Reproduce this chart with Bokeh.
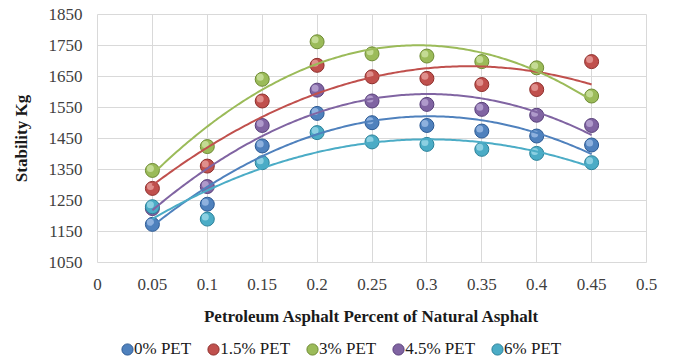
import numpy as np
from bokeh.plotting import figure
from bokeh.layouts import column
from bokeh.models import FixedTicker, CustomJSTickFormatter, Legend, LegendItem, ColumnDataSource
from bokeh.embed import file_html
from bokeh.resources import INLINE

x_vals = [0.05, 0.1, 0.15, 0.2, 0.25, 0.3, 0.35, 0.4, 0.45]
series_names = ["0% PET", "1.5% PET", "3% PET", "4.5% PET", "6% PET"]
pet0 = [1173, 1238, 1426, 1531, 1501, 1492, 1474, 1458, 1429]
pet15 = [1289, 1361, 1571, 1686, 1649, 1644, 1624, 1608, 1698]
pet3 = [1347, 1424, 1641, 1762, 1723, 1716, 1698, 1678, 1587]
pet45 = [1224, 1295, 1492, 1606, 1571, 1560, 1544, 1525, 1492]
pet6 = [1230, 1190, 1372, 1469, 1439, 1431, 1415, 1402, 1372]
series_values = [pet0, pet15, pet3, pet45, pet6]
colors = ["#4F81BD", "#C0504D", "#9BBB59", "#8064A2", "#4BACC6"]
dark = ["#2C5A94", "#8E2E2B", "#6E8B33", "#583F7A", "#2A8199"]
light = ["#A9C6EC", "#EDA9A7", "#D5E8AE", "#C3B1DD", "#A8E0EE"]
x_ticks = [0, 0.05, 0.1, 0.15, 0.2, 0.25, 0.3, 0.35, 0.4, 0.45, 0.5]
y_ticks = [1050, 1150, 1250, 1350, 1450, 1550, 1650, 1750, 1850]

FONT = "Liberation Serif"
FS = "17px"

p = figure(frame_width=549, frame_height=248, x_range=(0, 0.5), y_range=(1050, 1850),
           output_backend="svg", toolbar_location=None,
           min_border_left=97, min_border_right=18, min_border_top=14, min_border_bottom=75)
p.background_fill_color = "white"
p.border_fill_color = "white"
p.outline_line_color = "#D9D9D9"

p.xaxis.ticker = FixedTicker(ticks=x_ticks)
p.yaxis.ticker = FixedTicker(ticks=y_ticks)
p.xaxis.formatter = CustomJSTickFormatter(code="return tick.toFixed(2).replace(/0+$/,'').replace(/\\.$/,'');")
for ax in (p.xaxis, p.yaxis):
    ax.axis_line_color = None
    ax.major_tick_line_color = None
    ax.minor_tick_line_color = None
    ax.major_label_text_font = FONT
    ax.major_label_text_font_size = FS
    ax.major_label_text_color = "#404040"
    ax.axis_label_text_font = FONT
    ax.axis_label_text_font_style = "bold"
    ax.axis_label_text_font_size = FS
    ax.axis_label_text_color = "#1a1a1a"
p.xaxis.axis_label = "Petroleum Asphalt Percent of Natural Asphalt"
p.yaxis.axis_label = "Stability Kg"
p.xaxis.major_label_standoff = 10
p.xaxis.axis_label_standoff = 14
p.yaxis.major_label_standoff = 9
p.yaxis.axis_label_standoff = 15

p.xgrid.grid_line_color = "#D9D9D9"
p.ygrid.grid_line_color = "#D9D9D9"
p.xgrid.grid_line_width = 1
p.ygrid.grid_line_width = 1

px_x = 0.5 / 549.0
px_y = 800.0 / 248.0
xs_fit = np.linspace(min(x_vals), max(x_vals), 200)
line_renderers = []
for name, vals, c, d, l in zip(series_names, series_values, colors, dark, light):
    src = ColumnDataSource(dict(x=x_vals, y=vals,
                                hx=[v - 2 * px_x for v in x_vals],
                                hy=[v + 2 * px_y for v in vals]))
    p.scatter("x", "y", source=src, size=14, fill_color=c, line_color=d, line_width=1)
    p.scatter("hx", "hy", source=src, size=7, fill_color=l, fill_alpha=0.7, line_color=None)
    coef = np.polyfit(x_vals, vals, 2)
    line_renderers.append((xs_fit, np.polyval(coef, xs_fit), c))

for xs, ys, c in line_renderers:
    p.line(xs, ys, line_color=c, line_width=2)

# legend strip below the chart (its series glyphs use the data but lie outside this strip's range)
lf = figure(width=664, height=24, x_range=(0, 1), y_range=(0, 1),
            output_backend="svg", toolbar_location=None,
            x_axis_location=None, y_axis_location=None,
            min_border_left=97, min_border_right=18, min_border_top=0, min_border_bottom=0)
lf.outline_line_color = None
lf.xgrid.visible = False
lf.ygrid.visible = False
lf.background_fill_color = "white"
lf.border_fill_color = "white"
items = []
for name, vals, c, d in zip(series_names, series_values, colors, dark):
    r = lf.ellipse(x=x_vals, y=vals, width=11, height=11, width_units="screen",
                   height_units="screen", fill_color=c, line_color=d, line_width=1)
    items.append(LegendItem(label=name, renderers=[r]))
legend = Legend(items=items, orientation="horizontal", location=(23, 2),
                label_text_font=FONT, label_text_font_size=FS, label_text_color="#1a1a1a",
                glyph_width=14, glyph_height=14, label_standoff=0, label_height=16,
                spacing=15, padding=0, margin=0, border_line_color=None, background_fill_alpha=0)
lf.add_layout(legend, "center")

layout = column(p, lf, spacing=0)
open("out.html", "w").write(file_html(layout, INLINE))
